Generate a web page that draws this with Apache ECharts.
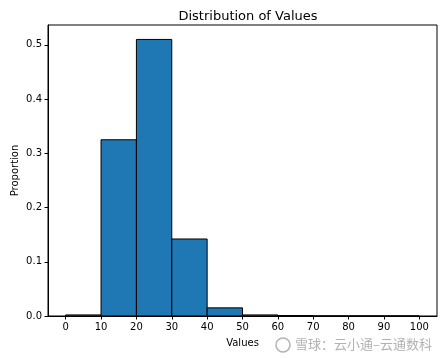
<!DOCTYPE html>
<html>
<head>
<meta charset="utf-8">
<script src="https://cdn.jsdelivr.net/npm/echarts@6/dist/echarts.min.js"></script>
<style>html,body{margin:0;padding:0;background:#fff}#c{width:446px;height:358px}</style>
</head>
<body>
<div id="c"></div>
<script>
const binEdges = [0, 10, 20, 30, 40, 50, 60, 70, 80, 90, 100];
const proportions = [0.002, 0.325, 0.510, 0.142, 0.015, 0.002, 0.0008, 0, 0, 0];
const xTicks = [0, 10, 20, 30, 40, 50, 60, 70, 80, 90, 100];
const yTicks = [0, 0.1, 0.2, 0.3, 0.4, 0.5];

const data = proportions.map((p, i) => [binEdges[i], binEdges[i + 1], p]);
const font = 'DejaVu Sans';
const chart = echarts.init(document.getElementById('c'), null, {renderer: 'canvas'});
chart.setOption({
  animation: false,
  backgroundColor: '#fff',
  title: {
    text: 'Distribution of Values', left: 243, top: 5, textAlign: 'center',
    textStyle: {fontFamily: font, fontSize: 13, fontWeight: 'normal', color: '#000'}
  },
  grid: {left: 48, right: 9, top: 25, bottom: 42, outerBoundsMode: 'none', containLabel: false,
    show: true, borderColor: '#000', borderWidth: 1, backgroundColor: 'transparent'},
  xAxis: {
    type: 'value', min: -5, max: 105,
    name: 'Values', nameLocation: 'middle', nameGap: 22, nameMoveOverlap: false,
    nameTextStyle: {fontFamily: font, fontSize: 10, color: '#000'},
    splitLine: {show: false},
    axisLine: {show: true, onZero: false, lineStyle: {color: '#000', width: 1}},
    axisTick: {show: true, inside: false, customValues: xTicks, length: 3.5, lineStyle: {color: '#000'}},
    axisLabel: {customValues: xTicks, fontFamily: font, fontSize: 10, color: '#000', margin: 6}
  },
  yAxis: {
    type: 'value', min: 0, max: 0.5366,
    name: 'Proportion', nameLocation: 'middle', nameGap: 28, nameMoveOverlap: false,
    nameTextStyle: {fontFamily: font, fontSize: 10, color: '#000'},
    splitLine: {show: false},
    axisLine: {show: true, onZero: false, lineStyle: {color: '#000', width: 1}},
    axisTick: {show: true, inside: false, customValues: yTicks, length: 3.5, lineStyle: {color: '#000'}},
    axisLabel: {customValues: yTicks, fontFamily: font, fontSize: 10, color: '#000', margin: 6,
      formatter: v => v.toFixed(1)}
  },
  series: [{
    type: 'custom',
    data: data,
    renderItem: function (params, api) {
      const p0 = api.coord([api.value(0), 0]);
      const p1 = api.coord([api.value(1), api.value(2)]);
      return {
        type: 'rect',
        shape: {x: p0[0], y: p1[1], width: p1[0] - p0[0], height: p0[1] - p1[1]},
        style: {fill: '#1f77b4', stroke: '#000', lineWidth: 1}
      };
    }
  }],
  graphic: [{
    type: 'text', right: 14, top: 338,
    style: {text: '雪球：云小通–云通数科', fill: 'rgba(165,165,165,0.85)', font: '13px "Noto Sans CJK SC"'}
  }, {
    type: 'circle', shape: {cx: 283, cy: 345, r: 7},
    style: {fill: '#fff', stroke: 'rgba(165,165,165,0.85)', lineWidth: 1.5}
  }]
});
</script>
</body>
</html>
